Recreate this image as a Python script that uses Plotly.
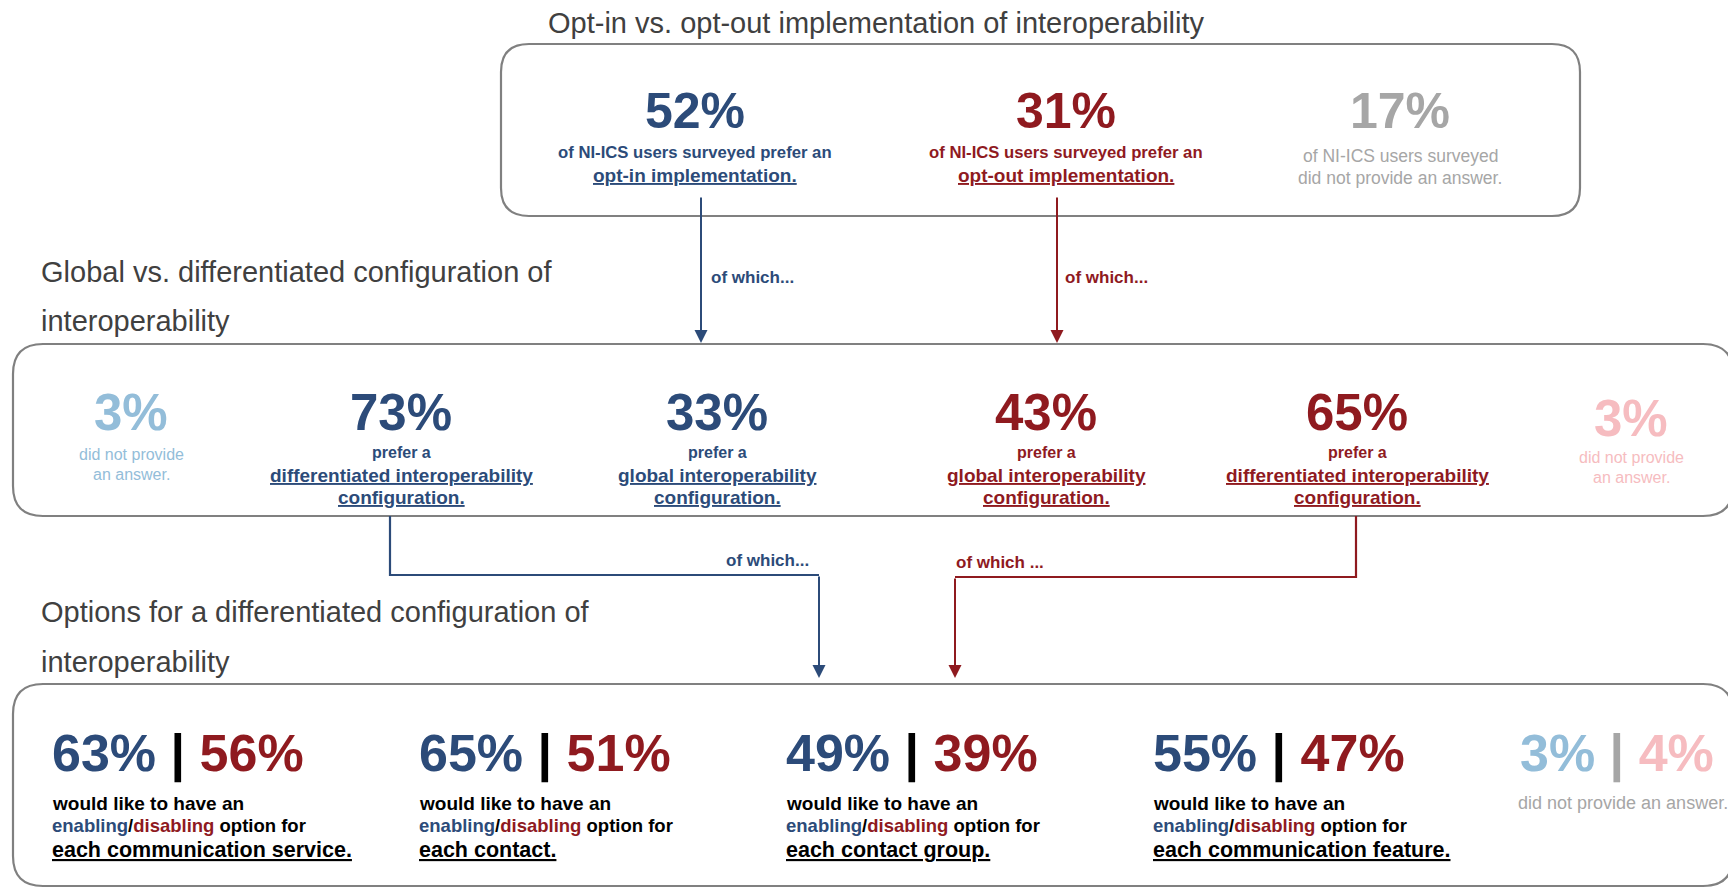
import plotly.graph_objects as go

W, H = 1736, 889
PAGE_MARGIN = 8  # default browser body margin around the plot div

# ---------------- data ----------------
section_titles = [
    ["Opt-in vs. opt-out implementation of interoperability"],
    ["Global vs. differentiated configuration of", "interoperability"],
    ["Options for a differentiated configuration of", "interoperability"],
]

stage1_values = [52, 31, 17]
stage1_line1 = ["of NI-ICS users surveyed prefer an",
                "of NI-ICS users surveyed prefer an",
                "of NI-ICS users surveyed"]
stage1_line2 = ["opt-in implementation.", "opt-out implementation.",
                "did not provide an answer."]

stage2_values = [3, 73, 33, 43, 65, 3]
stage2_line1 = ["did not provide", "prefer a", "prefer a", "prefer a", "prefer a", "did not provide"]
stage2_line2 = ["an answer.", "differentiated interoperability", "global interoperability",
                "global interoperability", "differentiated interoperability", "an answer."]
stage2_line3 = ["", "configuration.", "configuration.", "configuration.", "configuration.", ""]

stage3_optin = [63, 65, 49, 55, 3]
stage3_optout = [56, 51, 39, 47, 4]
stage3_target = ["each communication service.", "each contact.",
                 "each contact group.", "each communication feature."]
stage3_noanswer = "did not provide an answer."
connector_label = ["of which...", "of which...", "of which...", "of which ..."]

# ---------------- style ----------------
BLUE = "#2c4b79"
RED = "#8f1a1f"
GRAY = "#a6a6a6"
LBLUE = "#93bdd9"
PINK = "#f6bcc0"
TITLEC = "#404040"
BORDER = "#808080"
FONT = "Liberation Sans, Arial, sans-serif"

fig = go.Figure()
ann = []
shapes = []


def rrect(x0, y0, x1, y1, r):
    return (f"M{x0+r},{y0} L{x1-r},{y0} Q{x1},{y0} {x1},{y0+r} L{x1},{y1-r} "
            f"Q{x1},{y1} {x1-r},{y1} L{x0+r},{y1} Q{x0},{y1} {x0},{y1-r} "
            f"L{x0},{y0+r} Q{x0},{y0} {x0+r},{y0} Z")


def text(x, y, t, size, color, xanchor="center", bold=False):
    if bold:
        t = "<b>" + t + "</b>"
    ann.append(dict(x=x, y=y, xref="x", yref="y", text=t, showarrow=False,
                    xanchor=xanchor, yanchor="middle",
                    align="left" if xanchor == "left" else "center",
                    font=dict(family=FONT, size=size, color=color)))


def arrow(x, y_tail, y_head, color):
    ann.append(dict(x=x, y=y_head, ax=x, ay=y_tail, xref="x", yref="y",
                    axref="x", ayref="y", text="", showarrow=True,
                    arrowhead=2, arrowsize=1.3, arrowwidth=2, arrowcolor=color))


# section titles
title_pos = [(546, [23]), (39, [272, 321]), (39, [612, 662])]
for (tx, ys), lines in zip(title_pos, section_titles):
    for ty, ln in zip(ys, lines):
        text(tx, ty, ln, 29, TITLEC, xanchor="left")

# boxes
for (x0, y0, x1, y1, r) in [(501, 44, 1580, 216, 28), (13, 344, 1733, 516, 30), (13, 684, 1733, 886, 30)]:
    shapes.append(dict(type="path", path=rrect(x0, y0, x1, y1, r), xref="x", yref="y",
                       line=dict(color=BORDER, width=2.2), fillcolor="rgba(0,0,0,0)"))

# stage 1
s1_x = [695, 1066, 1400]
s1_col = [BLUE, RED, GRAY]
for i, v in enumerate(stage1_values):
    text(s1_x[i], 111, f"{v}%", 50, s1_col[i], bold=True)
    if i < 2:
        text(s1_x[i], 152, stage1_line1[i], 16.7, s1_col[i], bold=True)
        text(s1_x[i], 175, f"<u>{stage1_line2[i]}</u>", 19, s1_col[i], bold=True)
    else:
        text(s1_x[i], 156, stage1_line1[i], 17.5, s1_col[i])
        text(s1_x[i], 178, stage1_line2[i], 17.5, s1_col[i])

# arrows stage1 -> stage2
arrow(701, 196, 343, BLUE)
arrow(1057, 196, 343, RED)
text(709, 277, connector_label[0], 17, BLUE, xanchor="left", bold=True)
text(1063, 277, connector_label[1], 17, RED, xanchor="left", bold=True)

# stage 2
s2_x = [131, 401, 717, 1046, 1357, 1631]
s2_col = [LBLUE, BLUE, BLUE, RED, RED, PINK]
for i, v in enumerate(stage2_values):
    dy = 6 if i == 5 else 0
    text(s2_x[i], 412 + dy, f"{v}%", 51, s2_col[i], bold=True)
    if stage2_line3[i]:
        text(s2_x[i], 452, stage2_line1[i], 16, s2_col[i], bold=True)
        text(s2_x[i], 475, f"<u>{stage2_line2[i]}</u>", 19, s2_col[i], bold=True)
        text(s2_x[i], 497, f"<u>{stage2_line3[i]}</u>", 19, s2_col[i], bold=True)
    else:
        text(s2_x[i], 454 + dy / 2, stage2_line1[i], 16, s2_col[i])
        text(s2_x[i], 474 + dy / 2, stage2_line2[i], 16, s2_col[i])

# connectors stage2 -> stage3
shapes.append(dict(type="path", path="M390,516 L390,575 L819,575", xref="x", yref="y",
                   line=dict(color=BLUE, width=2.2)))
arrow(819, 575, 678, BLUE)
shapes.append(dict(type="path", path="M1356,516 L1356,577 L955,577", xref="x", yref="y",
                   line=dict(color=RED, width=2.2)))
arrow(955, 577, 678, RED)
text(811, 560, connector_label[2], 17, BLUE, xanchor="right", bold=True)
text(954, 562, connector_label[3], 17, RED, xanchor="left", bold=True)

# stage 3
s3_x = [50, 417, 784, 1151, 1518]
for i in range(5):
    if i < 4:
        num = (f"<span style='color:{BLUE}'>{stage3_optin[i]}%</span> "
               f"<span style='color:#000000'>|</span> "
               f"<span style='color:{RED}'>{stage3_optout[i]}%</span>")
        text(s3_x[i], 753, num, 52, BLUE, xanchor="left", bold=True)
        text(s3_x[i], 803, "would like to have an", 19, "#000000", xanchor="left", bold=True)
        text(s3_x[i], 825,
             f"<span style='color:{BLUE}'>enabling</span>/<span style='color:{RED}'>disabling</span> option for",
             18.5, "#000000", xanchor="left", bold=True)
        text(s3_x[i], 850, f"<u>{stage3_target[i]}</u>", 21.5, "#000000", xanchor="left", bold=True)
    else:
        num = (f"<span style='color:{LBLUE}'>{stage3_optin[i]}%</span> "
               f"<span style='color:{GRAY}'>|</span> "
               f"<span style='color:{PINK}'>{stage3_optout[i]}%</span>")
        text(s3_x[i], 753, num, 52, LBLUE, xanchor="left", bold=True)
        text(s3_x[i] - 2, 803, stage3_noanswer, 18, GRAY, xanchor="left")

fig.update_layout(
    width=W, height=H,
    margin=dict(l=0, r=0, t=0, b=0),
    paper_bgcolor="white", plot_bgcolor="white",
    xaxis=dict(range=[PAGE_MARGIN, W + PAGE_MARGIN], visible=False, fixedrange=True),
    yaxis=dict(range=[H + PAGE_MARGIN, PAGE_MARGIN], visible=False, fixedrange=True),
    showlegend=False,
    annotations=ann,
    shapes=shapes,
)
fig.write_html("out.html")
